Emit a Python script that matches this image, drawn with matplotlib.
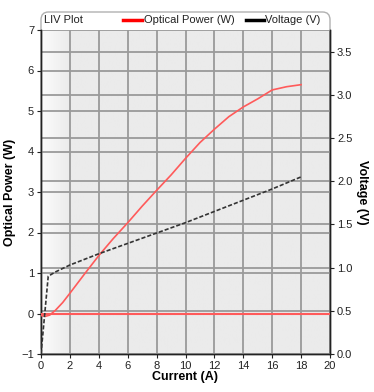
import numpy as np
import matplotlib.pyplot as plt
from matplotlib.patches import FancyBboxPatch
from matplotlib.lines import Line2D
from matplotlib.colors import LinearSegmentedColormap

plt.rcParams['font.family'] = ['Liberation Sans', 'DejaVu Sans']

# LIV data
current = [0, 0.3, 0.6, 1, 1.5, 2, 3, 4, 5, 6, 7, 8, 9, 10, 11, 12, 13, 14, 15, 16, 17, 18]
power = [-0.05, -0.07, -0.04, 0.08, 0.27, 0.5, 0.97, 1.43, 1.85, 2.24, 2.65, 3.04, 3.42,
         3.83, 4.22, 4.55, 4.86, 5.1, 5.3, 5.52, 5.6, 5.65]
v_current = [0, 0.25, 0.5, 1, 2, 4, 6, 8, 10, 12, 14, 16, 18]
voltage = [0.0, 0.45, 0.9, 0.95, 1.03, 1.16, 1.28, 1.40, 1.52, 1.65, 1.78, 1.91, 2.05]

x_ticks = list(range(0, 21, 2))
left_ticks = list(range(-1, 8))
right_ticks = [0.0, 0.5, 1.0, 1.5, 2.0, 2.5, 3.0, 3.5]

fig = plt.figure(figsize=(3.74, 3.92), dpi=100)
L, R, B, T = 41 / 374, 330 / 374, 1 - 354 / 392, 1 - 30 / 392

# outer frame with header band
frame = FancyBboxPatch((L, B), R - L, (1 - 12 / 392) - B, boxstyle="round,pad=0,rounding_size=0.02",
                       transform=fig.transFigure, facecolor='white', edgecolor='#b0b0b0', lw=1, zorder=-5)
fig.patches.append(frame)

ax2 = fig.add_axes([L, B, R - L, T - B])
ax = ax2.twinx()
ax.yaxis.tick_left()
ax.yaxis.set_label_position('left')
ax2.yaxis.tick_right()
ax2.yaxis.set_label_position('right')
ax.set_zorder(ax2.get_zorder() + 1)
ax.patch.set_visible(False)

# background gradient
grad = np.clip(np.linspace(0, 1, 200) / 0.1, 0, 1)[None, :]
cmap = LinearSegmentedColormap.from_list('bg', ['#fbfbfb', '#ebebeb'])
ax2.imshow(grad, extent=[0, 1, 0, 1], transform=ax2.transAxes, aspect='auto', cmap=cmap, zorder=-10)

ax.set_xlim(0, 20)
ax.set_ylim(-1, 7)
ax2.set_xlim(0, 20)
ax2.set_ylim(0, 3.75)

grid_kw = dict(color='#9a9a9a', lw=1.3)
ax2.set_xticks(x_ticks)
ax2.set_yticks(right_ticks)
ax2.set_axisbelow('line')
ax2.grid(True, **grid_kw)
ax.set_yticks(left_ticks)
ax.set_axisbelow(True)
ax.grid(True, axis='y', **grid_kw)

ax2.set_yticklabels([f'{v:.1f}' for v in right_ticks])

ax.axhline(0, color='#ff5a5a', lw=1.5, zorder=3)
ax.plot(current, power, color='#ff5a5a', lw=1.2, zorder=4)
ax.plot(v_current, voltage, color='#333333', lw=1.2, ls=(0, (2.5, 1.2)), zorder=4,
        transform=ax2.transData)

for a in (ax, ax2):
    a.spines['top'].set_visible(False)
    a.tick_params(labelsize=8, length=3, width=0.8, colors='#222222', pad=2)
    for s in ('left', 'right', 'bottom'):
        a.spines[s].set_color('#222222')
        a.spines[s].set_linewidth(1)

ax2.set_xlabel('Current (A)', fontsize=9, fontweight='bold', labelpad=0)
ax.set_ylabel('Optical Power (W)', fontsize=9, fontweight='bold', labelpad=4)
ax2.set_ylabel('Voltage (V)', fontsize=9, fontweight='bold', rotation=270, labelpad=11)

# header: title and legend
yh = 1 - 20 / 392
fig.text(44 / 374, yh, 'LIV Plot', fontsize=8, va='center', color='#222222')
fig.lines.append(Line2D([123 / 374, 142 / 374], [yh] * 2, color='#ff0000', lw=2.5,
                        transform=fig.transFigure))
fig.text(144 / 374, yh, 'Optical Power (W)', fontsize=8, va='center', color='#222222')
fig.lines.append(Line2D([246 / 374, 264 / 374], [yh] * 2, color='#000000', lw=2.5,
                        transform=fig.transFigure))
fig.text(265 / 374, yh, 'Voltage (V)', fontsize=8, va='center', color='#222222')

fig.savefig('out.png', dpi=100)
